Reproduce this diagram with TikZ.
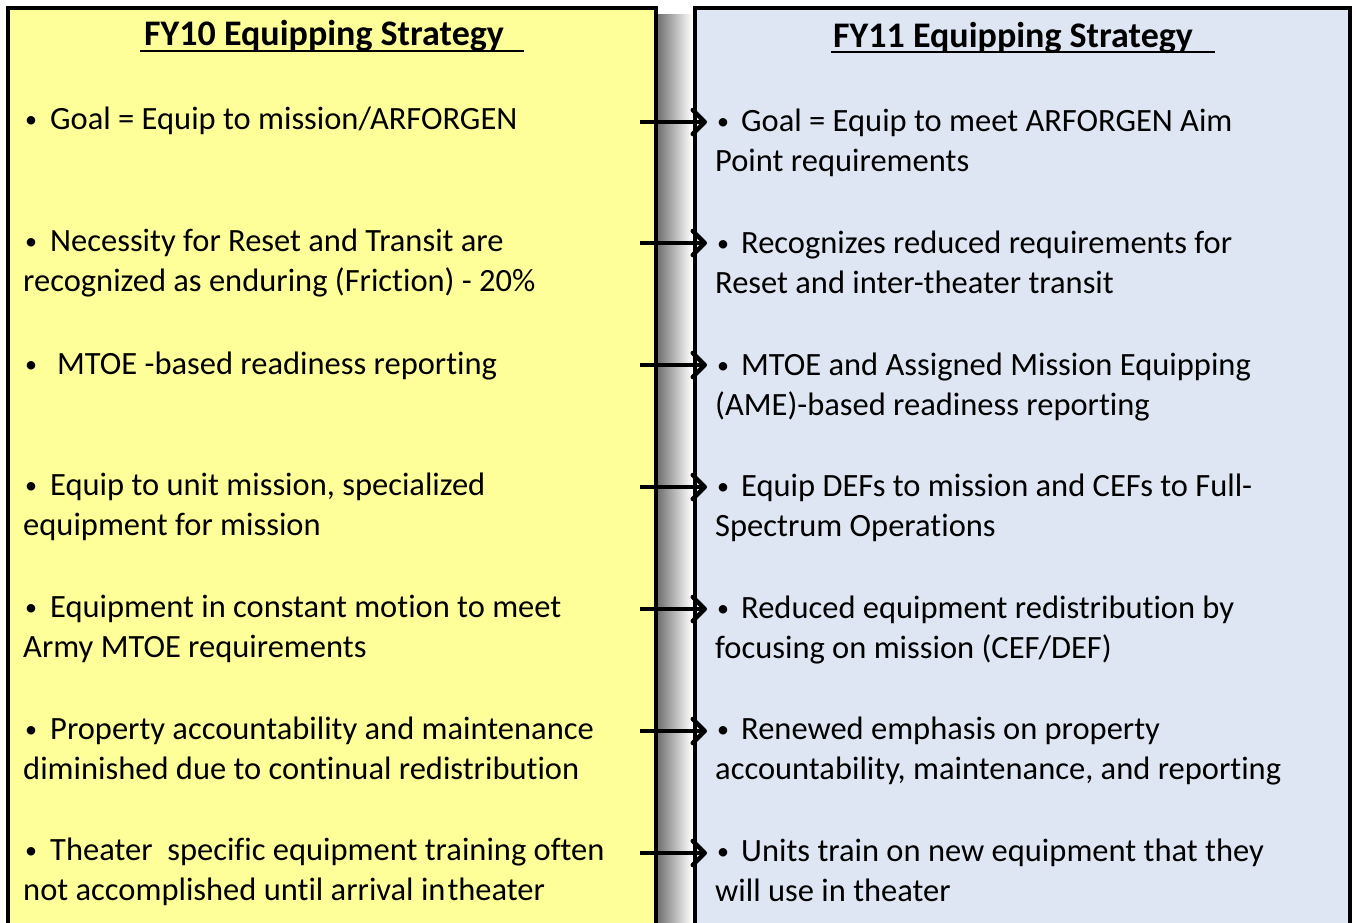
\documentclass[tikz,border=0pt]{standalone}
\usepackage{fontspec}
\setmainfont{Carlito}[Ligatures=NoCommon]
\usetikzlibrary{arrows.meta}
\definecolor{ylw}{RGB}{255,255,153}
\definecolor{lblue}{RGB}{221,230,242}
\newcommand\bul[1][27pt]{\makebox[#1][l]{\hspace{2pt}\raisebox{2pt}{\fontsize{24}{24}\selectfont•}}}
\begin{document}
\begin{tikzpicture}[x=1pt,y=-1pt,
  item/.style={anchor=base west, align=left, inner sep=0pt, font=\fontsize{32.5}{40.5}\selectfont},
  ttl/.style={anchor=base, inner sep=0pt, font=\fontsize{36}{40}\selectfont\bfseries},
  panel/.style={draw=black, line width=4pt},
  arr/.style={line width=4.5pt, -{Straight Barb[length=12pt,width=24pt,round]}}]
\useasboundingbox (0,0) rectangle (1356,922);
\clip (0,0) rectangle (1356,922);
% shadow
\shade[left color=black!55, right color=white] (658,14) rectangle (692,940);
% panels
\fill[ylw] (7.5,7.5) rectangle (656,940);
\draw[panel] (7.5,940) -- (7.5,7.5) -- (656,7.5) -- (656,940);
\fill[lblue] (694.5,7.5) rectangle (1350,940);
\draw[panel] (694.5,940) -- (694.5,7.5) -- (1350,7.5) -- (1350,940);
% titles
\node[ttl] (t1) at (324,45) {FY10 Equipping Strategy};
\draw[line width=2.5pt] (140,51) -- (524,51);
\node[ttl] (t2) at (1013,47) {FY11 Equipping Strategy};
\draw[line width=2.5pt] (831,52) -- (1215,52);
% left items (base anchor = baseline of last line)
\node[item] (l1) at (23,129) {\bul Goal = Equip to mission/ARFORGEN};
\node[item] (l2) at (23,291.5) {\bul Necessity for Reset and Transit are\\recognized as enduring (Friction) - 20\%};
\node[item] (l3) at (23,374) {\bul[34pt]MTOE -based readiness reporting};
\node[item] (l4) at (23,535.5) {\bul Equip to unit mission, specialized\\equipment for mission};
\node[item] (l5) at (23,657.5) {\bul Equipment in constant motion to meet\\Army MTOE requirements};
\node[item] (l6) at (23,779.5) {\bul Property accountability and maintenance\\diminished due to continual redistribution};
\node[item] (l7) at (23,900.5) {\bul Theater\ \ specific equipment training often\\not accomplished until arrival in\hspace{2pt}theater};
% right items
\node[item] (r1) at (715,171.5) {\bul[26pt]Goal = Equip to meet ARFORGEN Aim\\Point requirements};
\node[item] (r2) at (715,293.5) {\bul[26pt]Recognizes reduced requirements for\\Reset and inter-theater transit};
\node[item] (r3) at (715,415.5) {\bul[26pt]MTOE and Assigned Mission Equipping\\(AME)-based readiness reporting};
\node[item] (r4) at (715,536.5) {\bul[26pt]Equip DEFs to mission and CEFs to Full-\\Spectrum Operations};
\node[item] (r5) at (715,658.5) {\bul[26pt]Reduced equipment redistribution by\\focusing on mission (CEF/DEF)};
\node[item] (r6) at (715,779.5) {\bul[26pt]Renewed emphasis on property\\accountability, maintenance, and reporting};
\node[item] (r7) at (715,901.5) {\bul[26pt]Units train on new equipment that they\\will use in theater};
% arrows
\foreach \i/\y in {1/122,2/243,3/365,4/487,5/609,6/731,7/853}{
  \coordinate (a\i) at (640,\y);
  \coordinate (b\i) at (707,\y);
  \draw[arr] (a\i) -- (b\i);
}
\end{tikzpicture}
\end{document}
